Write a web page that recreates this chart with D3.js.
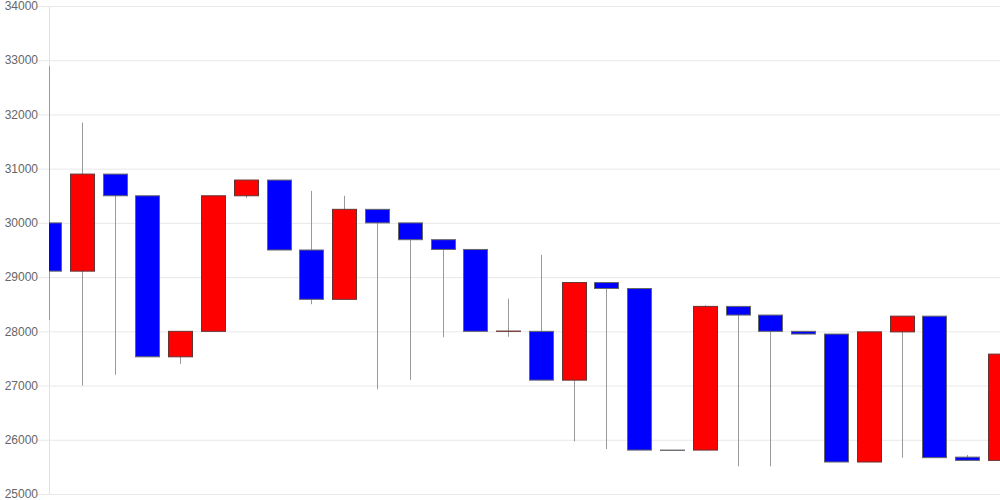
<!DOCTYPE html>
<html>
<head>
<meta charset="utf-8">
<script src="https://cdn.jsdelivr.net/npm/d3@7"></script>
<style>
  body { margin: 0; background: #fff; }
  svg { display: block; font-family: 'Liberation Sans', Arial, sans-serif; }
</style>
</head>
<body>
<svg width="1000" height="500"></svg>
<script>
const opens = [30000, 29110, 30900, 30500, 27530, 28000, 30500, 30790, 29500, 28590,
  30250, 30000, 29690, 29510, 28000, 28000, 27100, 28900, 28790, 25810,
  25810, 28460, 28300, 28000, 27950, 25590, 27990, 28280, 25680, 25620];
const highs = [32890, 31850, 30900, 30500, 28000, 30500, 30790, 30790, 30590, 30500,
  30250, 30000, 29690, 29510, 28600, 29410, 28900, 28900, 28790, 25810,
  28480, 28460, 28300, 28000, 27950, 27990, 28280, 28280, 25720, 28000];
const lows = [28210, 27000, 27200, 27530, 27400, 28000, 30460, 29500, 28500, 28590,
  26930, 27100, 27890, 28000, 27900, 27100, 25970, 25830, 25810, 25805,
  25810, 25510, 25510, 27940, 25590, 25590, 25670, 25670, 25620, 25620];
const closes = [29110, 30900, 30500, 27530, 28000, 30500, 30790, 29500, 28590, 30250,
  30000, 29690, 29510, 28000, 28005, 27100, 28900, 28790, 25810, 25805,
  28460, 28300, 28000, 27950, 25590, 27990, 28280, 25670, 25620, 27580];
const yTicks = [25000, 26000, 27000, 28000, 29000, 30000, 31000, 32000, 33000, 34000];

const candles = opens.map((o, i) => ({ i, o, h: highs[i], l: lows[i], c: closes[i] }));

const M = { left: 49, right: 1000, top: 6, bottom: 494 };
const candleW = 24;

const x = d3.scalePoint().domain(candles.map((d) => d.i)).range([M.left, M.right]);
const y = d3.scaleLinear().domain([25000, 34000]).range([M.bottom, M.top]);

const svg = d3.select('svg');

svg.append('defs').append('clipPath').attr('id', 'plot')
  .append('rect')
  .attr('x', M.left).attr('y', 0)
  .attr('width', M.right - M.left).attr('height', 500);

// grid + short ticks left of the axis
const grid = svg.append('g')
  .attr('transform', `translate(${M.left},0)`)
  .call(d3.axisLeft(y).tickValues(yTicks).tickSize(-(M.right - M.left)).tickFormat(''));
grid.select('.domain').attr('stroke', '#e0e0e0');
grid.selectAll('.tick line').attr('x1', -11).attr('stroke', '#e8e8e8');

// labels
svg.append('g')
  .selectAll('text')
  .data(yTicks)
  .enter()
  .append('text')
  .attr('x', 38)
  .attr('y', (d) => y(d))
  .attr('dy', '0.35em')
  .attr('text-anchor', 'end')
  .attr('fill', '#666')
  .attr('font-size', 12)
  .text((d) => d);

const plot = svg.append('g').attr('clip-path', 'url(#plot)');

plot.selectAll('.wick')
  .data(candles)
  .enter()
  .append('line')
  .classed('wick', true)
  .attr('x1', (d) => Math.round(x(d.i)) + 0.5)
  .attr('x2', (d) => Math.round(x(d.i)) + 0.5)
  .attr('y1', (d) => y(d.h))
  .attr('y2', (d) => y(d.l))
  .attr('stroke', '#999')
  .attr('stroke-width', 1);

plot.selectAll('.body')
  .data(candles)
  .enter()
  .append('rect')
  .classed('body', true)
  .attr('x', (d) => Math.round(x(d.i) - candleW / 2) + 0.5)
  .attr('y', (d) => y(Math.max(d.o, d.c)))
  .attr('width', candleW)
  .attr('height', (d) => Math.abs(y(d.o) - y(d.c)))
  .attr('fill', (d) => (d.c > d.o ? '#ff0000' : '#0000ff'))
  .attr('stroke', (d) => (d.c > d.o ? '#663333' : '#666'))
  .attr('stroke-width', 1);
</script>
</body>
</html>
